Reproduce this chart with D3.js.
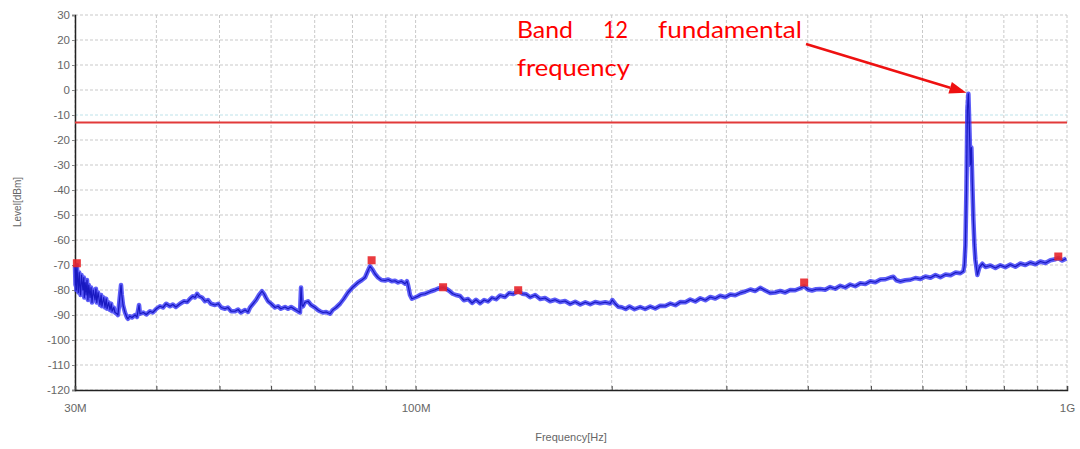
<!DOCTYPE html>
<html><head><meta charset="utf-8">
<script src="https://cdn.jsdelivr.net/npm/d3@7"></script>
<style>html,body{margin:0;padding:0;background:#fff;}svg{display:block;}</style>
</head><body>
<svg id="chart" width="1080" height="449"></svg>
<script>
// ---- data (frequency in MHz, level in dBm) ----
const freqMHz = [30.0,30.05,30.1,30.15,30.2,30.3,30.35,30.45,30.53,30.6,30.7,30.85,30.95,31.0,31.1,31.2,31.3,31.4,31.5,31.64,31.75,31.86,32.0,32.2,32.3,32.4,32.55,32.77,32.9,33.0,33.2,33.36,33.5,33.6,33.8,33.95,34.1,34.2,34.4,34.56,34.8,34.92,35.05,35.3,35.4,35.55,35.8,36.05,36.18,36.4,36.7,37.09,37.35,37.62,37.75,38.2,38.6,39.11,39.5,40.0,40.51,40.95,41.4,41.97,42.4,42.85,43.48,44.1,44.6,45.05,45.5,45.85,46.18,46.5,47.0,47.5,48.0,48.5,49.21,49.8,50.3,50.98,51.5,52.1,52.82,53.4,53.9,54.72,55.3,55.69,56.3,56.9,57.5,58.11,58.5,58.9,59.35,60.0,60.84,61.5,62.1,63.03,63.7,64.4,65.3,66.0,66.46,66.7,66.93,67.17,67.6,68.37,69.1,70.08,70.8,71.33,72.1,72.9,73.9,74.6,75.5,76.56,77.6,78.75,80.0,80.8,81.59,82.7,83.63,84.6,85.12,85.7,86.6,87.56,88.6,89.75,90.8,91.9,92.98,94.0,95.1,96.33,97.0,97.35,98.04,98.7,99.79,100.8,101.9,103.4,104.5,105.6,107.0,108.1,109.2,110.2,111.4,112.6,114.0,115.3,117.0,118.6,120.4,122.1,123.8,125.6,127.4,129.2,131.0,132.9,134.8,137.2,139.2,141.2,143.7,145.8,147.8,149.9,152.6,155.3,158.0,160.9,163.7,166.6,169.6,172.7,175.8,179.0,182.2,185.4,188.7,192.0,195.5,199.0,200.4,202.5,204.7,207.2,210.1,213.0,216.8,221.2,225.1,229.2,233.3,237.4,241.7,246.1,250.5,255.0,259.5,264.0,268.8,273.6,278.5,283.4,288.5,293.5,298.9,304.2,309.6,315.1,320.7,326.5,332.3,338.1,344.2,350.3,356.5,362.9,369.3,375.9,382.6,389.4,394.9,400.4,406.0,411.8,417.9,425.3,432.9,440.6,448.7,456.6,464.7,473.0,481.7,490.3,499.0,507.9,517.1,526.3,535.7,541.4,547.1,554.8,564.8,575.0,585.2,595.6,606.3,617.2,628.2,639.2,650.9,662.6,674.5,686.0,693.3,695.9,698.3,700.8,703.2,705.7,708.2,710.7,713.2,715.7,718.3,720.9,723.4,728.5,733.6,741.5,749.6,762.9,776.5,790.0,804.2,818.4,833.1,848.1,863.2,878.7,894.5,910.1,926.6,943.0,959.9,969.7,983.4,997.5];
const levelDbm = [-70.5,-78,-72,-80,-70,-77,-81,-73,-79,-82,-74,-80,-75,-83,-77,-82,-76,-84,-78,-83,-79,-85,-80,-84,-79.5,-85,-81,-86,-82,-86.5,-83,-87,-83.5,-87.5,-85,-88,-85.5,-88.5,-87,-89,-89.5,-90,-86,-78,-82,-86,-89,-91,-91.5,-90.5,-91,-90,-90.8,-86,-89.5,-89,-89.8,-88.5,-89,-87.5,-86.5,-87,-85.5,-86.5,-85.8,-86.8,-85.5,-84.5,-84.8,-83.5,-82.5,-83,-81.5,-82.5,-83,-84.5,-84,-85.5,-86,-85.5,-87,-87.5,-87,-88.5,-88.5,-87.8,-89,-88,-88.8,-87,-85.5,-84,-82,-80.5,-81.5,-83,-84.5,-85.5,-87,-86.5,-87.5,-86.8,-87.5,-86.8,-87.8,-88.5,-89,-79,-86,-86.5,-85,-84.5,-86,-87,-88,-88.5,-89,-88.8,-89.5,-88,-87,-85.5,-83.5,-81,-79,-78,-77,-76,-75,-72,-70.5,-71.5,-73.5,-75,-76,-76.2,-75.8,-76.5,-76.3,-77,-76.5,-77.5,-76.5,-78,-82,-83.5,-83,-82.5,-81.8,-81.5,-81,-80.5,-80,-79.5,-79.2,-79,-79.5,-80.3,-81.5,-82,-82.4,-84.1,-83.6,-85.2,-83.9,-85.3,-84.0,-84.6,-83.1,-83.7,-82.2,-82.8,-81.2,-81.6,-80.4,-81.5,-81.7,-82.9,-82.0,-83.6,-83.2,-84.5,-83.9,-84.8,-84.4,-85.6,-84.7,-85.8,-84.9,-85.7,-84.8,-85.3,-84.9,-85.4,-84,-85.5,-86.7,-86.9,-87.6,-86.6,-87.7,-86.8,-87.6,-86.6,-87.4,-86.3,-86.4,-85.4,-86.1,-84.8,-84.9,-83.8,-84.6,-83.3,-84.1,-82.8,-83.4,-82.3,-82.9,-81.8,-82.1,-81.2,-80.6,-79.8,-80.4,-79.1,-80.2,-81.2,-81.0,-80.4,-81.0,-80.0,-80.1,-79.3,-78.5,-79.8,-80.2,-79.7,-79.6,-79.9,-78.8,-79.5,-78.3,-79.0,-77.8,-78.5,-77.3,-77.6,-76.5,-76.9,-75.8,-75.7,-75.0,-74.7,-76.1,-76.6,-76.1,-75.9,-75.2,-75.6,-74.6,-75.1,-74.0,-74.9,-73.8,-74.1,-73.0,-73.3,-72.5,-70,-62,-40,-8,-1.5,-15,-30,-23,-38,-52,-62,-68,-74,-71,-69.5,-70.8,-70.2,-71.2,-70.1,-70.9,-69.8,-70.7,-69.4,-70.0,-69.0,-69.7,-68.6,-69.2,-68.1,-67.7,-67.2,-68.2,-67.4];
const markerMHz = [30.2, 85.6, 110.2, 143.7, 394.9, 969.7];
const markerDbm = [-69.3, -68.1, -78.9, -80.1, -77.0, -66.6];
const limitDbm = -13;
const yTicks = [30,20,10,0,-10,-20,-30,-40,-50,-60,-70,-80,-90,-100,-110,-120];
const xGridMHz = [30,40,50,60,70,80,90,100,200,300,400,500,600,700,800,900,1000];
const xLabelMHz = [30,100,1000];
const xLabelText = ["30M","100M","1G"];
const annotationLine1 = ["Band","12","fundamental"];
const annotationLine2 = "frequency";
const peakMHz = 705.7, peakDbm = -1.5;

// ---- layout ----
const svg = d3.select("#chart");
const L = 75, R = 1067, T = 15, B = 390;
const x = d3.scaleLog().domain([30, 1000]).range([L, R]);
const y = d3.scaleLinear().domain([-120, 30]).range([B, T]);
const FONT = "Liberation Sans, Arial, sans-serif";

// grid
const g = svg.append("g");
g.selectAll("line.hg").data(yTicks).join("line")
  .attr("x1", L).attr("x2", R).attr("y1", d => y(d)).attr("y2", d => y(d))
  .attr("stroke", d => d === -10 ? "#bfe3ea" : "#c9c9c9").attr("stroke-width", 1)
  .attr("stroke-dasharray", "3,2");
g.selectAll("line.vg").data(xGridMHz).join("line")
  .attr("x1", d => x(d)).attr("x2", d => x(d)).attr("y1", T).attr("y2", B)
  .attr("stroke", "#c9c9c9").attr("stroke-width", 1).attr("stroke-dasharray", "3,2");

// axes
const yAxis = d3.axisLeft(y).tickValues(yTicks).tickSize(3).tickPadding(2).tickFormat(d => String(d));
const ya = svg.append("g").attr("transform", `translate(${L},0)`).call(yAxis);
ya.select(".domain").attr("stroke", "#222").attr("stroke-width", 1.5);
ya.selectAll(".tick line").attr("stroke", "#888");
ya.selectAll("text").attr("font-family", FONT).attr("font-size", 11.5).attr("fill", "#666");

const xAxis = d3.axisBottom(x).tickValues(xGridMHz).tickSize(-4)
  .tickFormat(d => { const i = xLabelMHz.indexOf(d); return i >= 0 ? xLabelText[i] : ""; });
const xa = svg.append("g").attr("transform", `translate(0,${B})`).call(xAxis);
xa.select(".domain").attr("stroke", "#222").attr("stroke-width", 1.5);
xa.selectAll(".tick line").attr("stroke", "#444");
xa.selectAll("text").attr("font-family", FONT).attr("font-size", 11.5)
  .attr("fill", "#666").attr("y", 14);

// axis titles
svg.append("text").attr("transform", "translate(21,202) rotate(-90)").attr("text-anchor", "middle")
  .attr("font-family", FONT).attr("font-size", 10).attr("fill", "#666").text("Level[dBm]");
svg.append("text").attr("x", 571).attr("y", 441).attr("text-anchor", "middle")
  .attr("font-family", FONT).attr("font-size", 11).attr("fill", "#666").text("Frequency[Hz]");

// limit line
svg.append("line").attr("x1", L).attr("x2", R).attr("y1", y(limitDbm)).attr("y2", y(limitDbm))
  .attr("stroke", "#e23a3a").attr("stroke-width", 2.2);

// trace
const data = freqMHz.map((f, i) => [f, levelDbm[i]]);
const line = d3.line().x(d => x(d[0])).y(d => y(d[1]));
svg.append("path").datum(data).attr("d", line).attr("fill", "none")
  .attr("stroke", "#3535f5").attr("stroke-width", 4.5).attr("stroke-opacity", 0.8).attr("stroke-linejoin", "round");
svg.append("path").datum(data).attr("d", line).attr("fill", "none")
  .attr("stroke", "#1818c0").attr("stroke-width", 1.2).attr("stroke-linejoin", "round");

// markers
svg.selectAll("rect.mk").data(markerMHz).join("rect")
  .attr("x", (d) => x(d) - 4).attr("y", (d, i) => y(markerDbm[i]) - 4)
  .attr("width", 8).attr("height", 8).attr("fill", "#e8262a").attr("fill-opacity", 0.9);

// annotation
const ann = svg.append("g").attr("font-family", "Lato, 'Open Sans', sans-serif").attr("font-size", 24).attr("fill", "#ff0000");
const line1X = [517, 603, 658], line1W = [56, 25, 144];
annotationLine1.forEach((w, i) => {
  ann.append("text").attr("x", line1X[i]).attr("y", 38).attr("textLength", line1W[i])
    .attr("lengthAdjust", "spacingAndGlyphs").text(w);
});
ann.append("text").attr("x", 517).attr("y", 76).attr("textLength", 113)
  .attr("lengthAdjust", "spacingAndGlyphs").text(annotationLine2);

// arrow
const tipX = x(peakMHz) - 2, tipY = y(peakDbm) - 1;
const sx = 806, sy = 44;
const ang = Math.atan2(tipY - sy, tipX - sx);
const hl = 17, hw = 6;
const bx = tipX - hl * Math.cos(ang), by = tipY - hl * Math.sin(ang);
svg.append("line").attr("x1", sx).attr("y1", sy).attr("x2", bx).attr("y2", by)
  .attr("stroke", "#ee1111").attr("stroke-width", 2.5);
svg.append("path").attr("d", `M${tipX},${tipY} L${bx + hw * Math.sin(ang)},${by - hw * Math.cos(ang)} L${bx - hw * Math.sin(ang)},${by + hw * Math.cos(ang)} Z`)
  .attr("fill", "#ee1111");
</script>
</body></html>
